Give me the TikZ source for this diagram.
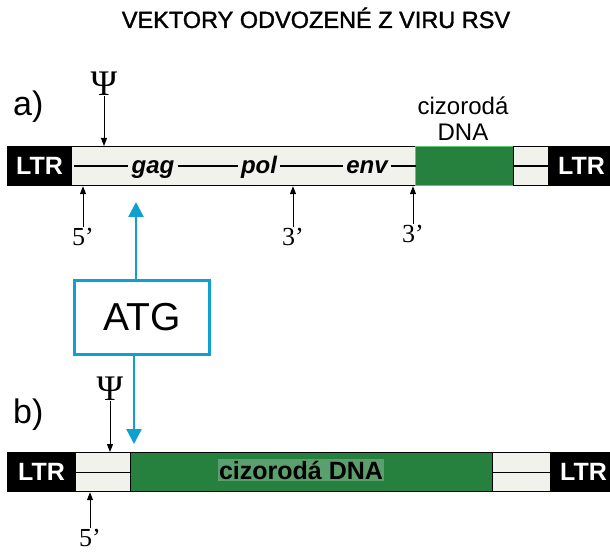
\documentclass[tikz,border=0pt]{standalone}
\usepackage{fontspec}
\setmainfont{Liberation Sans}
\newfontfamily\seriffont{Liberation Serif}
\newfontfamily\titlefont[FakeBold=1.5]{Liberation Sans}
\usetikzlibrary{arrows.meta}
\definecolor{lightbar}{RGB}{242,242,236}
\definecolor{dnagreen}{RGB}{38,128,62}
\definecolor{dnaedge}{RGB}{100,195,120}
\definecolor{atgblue}{RGB}{14,160,206}
\tikzset{
  seg/.style={draw=black, line width=1.2pt, minimum height=39pt, inner sep=0pt, anchor=north west},
  ltr/.style={seg, fill=black, text=white, font=\fontsize{25}{25}\selectfont\bfseries},
  virbox/.style={seg, fill=lightbar},
  dnabox/.style={seg, fill=dnagreen},
  gene/.style={font=\fontsize{24}{24}\selectfont\bfseries\itshape, inner sep=3pt, anchor=base},
  endlbl/.style={font=\seriffont\fontsize{26}{26}\selectfont, inner sep=1pt},
  thinarrow/.style={-{Triangle[width=6pt,length=8pt]}, line width=1pt},
  psisym/.style={font=\seriffont\fontsize{36}{36}\selectfont, inner sep=0pt},
  partlbl/.style={font=\fontsize{34}{34}\selectfont, anchor=base west, inner sep=0pt},
  bluearrow/.style={draw=atgblue, line width=2.4pt, -{Triangle[width=15pt,length=15pt]}},
  midline/.style={line width=1.2pt}
}
\begin{document}
\begin{tikzpicture}[x=1pt,y=-1pt]
\useasboundingbox[fill=white] (0,0) rectangle (610,553);

% title
\node[font=\titlefont\fontsize{23.5}{23.5}\selectfont, anchor=base] (title) at (316,28) {VEKTORY ODVOZENÉ Z VIRU RSV};

% ---------- a) ----------
\node[partlbl] (la) at (13,116) {a)};
\node[ltr, minimum width=64pt] (ltrA1) at (7,146) {LTR};
\node[virbox, minimum width=344pt] (virA) at (71,146) {};
\node[dnabox, draw=dnaedge, minimum width=98pt] (cizA) at (415,146) {};
\node[virbox, minimum width=35pt] (spA) at (513,146) {};
\node[ltr, minimum width=66pt] (ltrA2) at (548,146) {LTR};

\node[gene] (gag) at (153,174) {gag};
\node[gene] (pol) at (259,174) {pol};
\node[gene] (env) at (367,174) {env};
\draw[midline] (virA.west) ++(3,0) coordinate (vs) -- (vs -| gag.west);
\draw[midline] (gag.east |- virA.center) -- (pol.west |- virA.center);
\draw[midline] (pol.east |- virA.center) -- (env.west |- virA.center);
\draw[midline] (env.east |- virA.center) -- (virA.east);
\draw[midline] (spA.west) -- (spA.east);

\node[font=\fontsize{24}{26}\selectfont, align=center, inner sep=0pt] (cizlblA) at (463,119) {cizorodá\\DNA};

\node[psisym] (psiA) at (104,84) {Ψ};
\coordinate (psiAend) at (104,146);
\draw[thinarrow] (psiA.south) -- (psiAend);

\node[endlbl] (f5a) at (83,237) {5’};
\node[endlbl] (f3a) at (293,237) {3’};
\node[endlbl] (g3a) at (413,234) {3’};
\draw[thinarrow] (f5a.north) -- (f5a.north |- virA.south);
\draw[thinarrow] (f3a.north) -- (f3a.north |- virA.south);
\draw[thinarrow] (g3a.north) -- (g3a.north |- virA.south);

% ---------- ATG ----------
\node[draw=atgblue, line width=3.5pt, minimum width=135pt, minimum height=74pt, inner sep=0pt,
      font=\fontsize{39}{39}\selectfont] (atg) at (142,317.5) {ATG};
\coordinate (atgUp) at (136,202);
\coordinate (atgDown) at (134,444);
\draw[bluearrow] (atg.north -| atgUp) -- (atgUp);
\draw[bluearrow] (atg.south -| atgDown) -- (atgDown);

% ---------- b) ----------
\node[partlbl] (lb) at (13,423) {b)};
\node[ltr, minimum width=68pt] (ltrB1) at (7,452) {LTR};
\node[virbox, minimum width=55pt] (spB1) at (75,452) {};
\node[dnabox, minimum width=362pt] (cizB) at (130,452) {};
\node[virbox, minimum width=58pt] (spB2) at (492,452) {};
\node[ltr, minimum width=66pt] (ltrB2) at (550,452) {LTR};
\draw[midline] (spB1.west) -- (spB1.east);
\draw[midline] (spB2.west) -- (spB2.east);

\node[font=\fontsize{25}{25}\selectfont\bfseries, fill=white, fill opacity=0.25, text opacity=1, inner sep=1.5pt] (cizlblB) at (301,470) {cizorodá DNA};

\node[psisym] (psiB) at (110,389) {Ψ};
\coordinate (psiBend) at (110,452);
\draw[thinarrow] (psiB.south) -- (psiBend);

\node[endlbl] (f5b) at (90,538) {5’};
\draw[thinarrow] (f5b.north) -- (f5b.north |- spB1.south);
\end{tikzpicture}
\end{document}
